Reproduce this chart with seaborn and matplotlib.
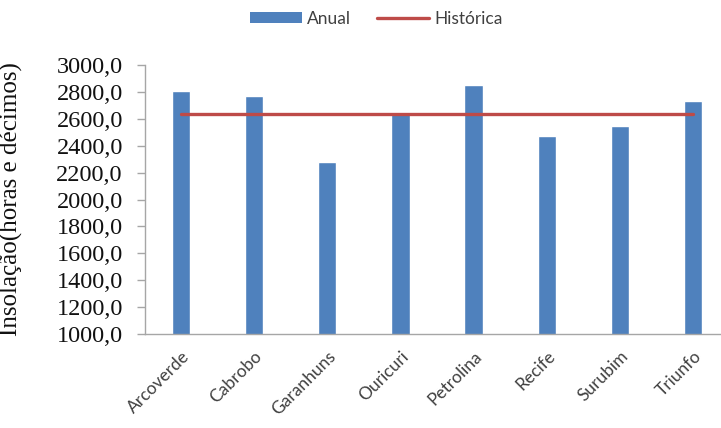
import matplotlib
matplotlib.use("Agg")
import matplotlib.pyplot as plt
import seaborn as sns
import pandas as pd
from matplotlib.patches import Patch
from matplotlib.lines import Line2D

categorias = ["Arcoverde", "Cabrobo", "Garanhuns", "Ouricuri", "Petrolina", "Recife", "Surubim", "Triunfo"]
anual = [2808, 2772, 2282, 2640, 2852, 2475, 2548, 2736]
historica = [2637, 2637, 2637, 2637, 2637, 2637, 2637, 2637]
yticks = [1000, 1200, 1400, 1600, 1800, 2000, 2200, 2400, 2600, 2800, 3000]

sns.set_theme(style="white")
plt.rcParams['font.family'] = ['Liberation Serif', 'DejaVu Serif']

BLUE = "#4F81BD"
RED = "#BE4B48"

df = pd.DataFrame({"cat": categorias, "anual": anual, "hist": historica})

fig = plt.figure(figsize=(7.21, 4.28), dpi=100)
ax = fig.add_axes([145/721, 94/428, (721-145)/721, 269/428])

sns.barplot(data=df, x="cat", y="anual", color=BLUE, width=0.25, saturation=1, ax=ax, zorder=2)
sns.pointplot(data=df, x="cat", y="hist", color=RED, markers="", linestyles="-",
              linewidth=2.4, ax=ax, zorder=3)

ax.set_ylim(1000, 3000)
ax.set_xlim(-0.49, 7.38)
ax.set_yticks(yticks)
ax.set_yticklabels([f"{v:.1f}".replace(".", ",") for v in yticks], fontsize=17.5, color="#111111")
ax.set_xticks(range(len(categorias)))
ax.set_xticklabels(categorias, rotation=45, ha="right", rotation_mode="anchor",
                   fontsize=12.5, family=["Lato", "DejaVu Sans"], color="#404040")
ax.set_xlabel("")
ax.set_ylabel("Insolação(horas e décimos)", fontsize=18, color="#111111")
ax.yaxis.set_label_coords(-122/576, 0.5)

for s in ["top", "right"]:
    ax.spines[s].set_visible(False)
for s in ["left", "bottom"]:
    ax.spines[s].set_color("#A6A6A6")
    ax.spines[s].set_linewidth(1.0)
ax.tick_params(axis="y", which="major", left=True, length=6, width=1, color="#A6A6A6", pad=10)
ax.tick_params(axis="x", bottom=False, pad=4)

handles = [Patch(facecolor=BLUE, edgecolor="none"),
           Line2D([0], [0], color=RED, linewidth=2.4)]
fig.legend(handles, ["Anual", "Histórica"], loc="center", bbox_to_anchor=(376/721, 1 - 19/428),
           ncol=2, frameon=False, prop={"family": ["Lato", "DejaVu Sans"], "size": 12.5},
           handlelength=3.0, handleheight=0.6, columnspacing=1.5, handletextpad=0.3,
           labelcolor="#404040")

fig.savefig("out.png", dpi=100)
